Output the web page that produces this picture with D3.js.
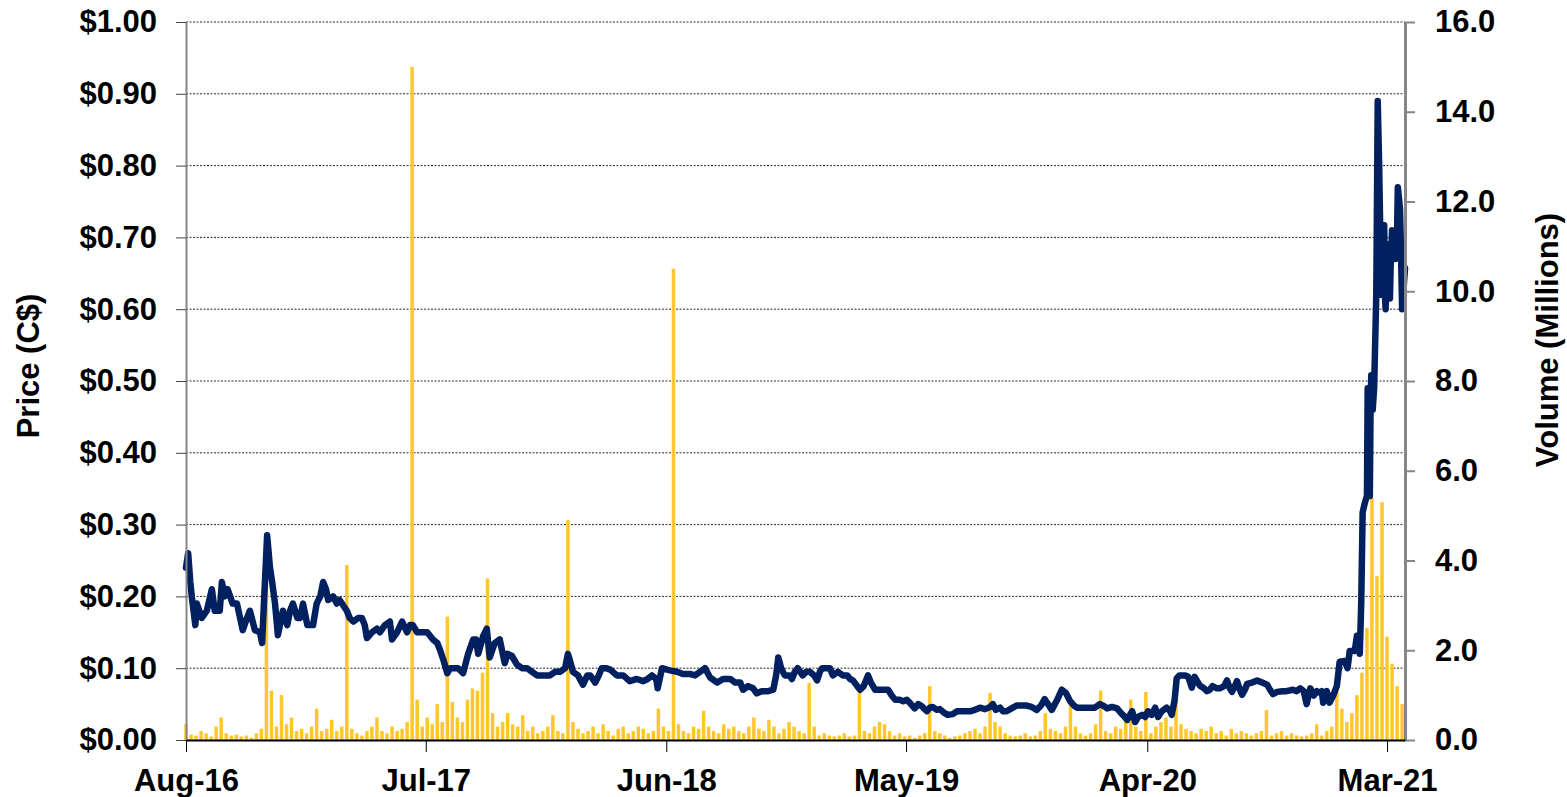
<!DOCTYPE html>
<html>
<head>
<meta charset="utf-8">
<script src="https://cdn.jsdelivr.net/npm/d3@7"></script>
<style>
  body { margin: 0; background: #fff; }
  text { font-family: "Liberation Sans", Arial, sans-serif; font-weight: bold; }
</style>
</head>
<body>
<svg id="chart"></svg>
<script>
// Date range of the chart
const startDate = new Date(2016, 7, 1);
const endDate = new Date(2021, 2, 26);

// X tick labels and their dates
const xTickLabels = ["Aug-16", "Jul-17", "Jun-18", "May-19", "Apr-20", "Mar-21"];
const xTickDates = ["2016-08-01", "2017-07-01", "2018-06-01", "2019-05-01", "2020-04-01", "2021-03-01"];

// Axis ticks
const priceTicks = [0, 0.1, 0.2, 0.3, 0.4, 0.5, 0.6, 0.7, 0.8, 0.9, 1.0];
const volumeTicks = [0, 2, 4, 6, 8, 10, 12, 14, 16];

// Closing price (C$): [days since 1 Aug 2016, price]
const pricePoints = [
  [0,0.24],[3,0.26],[6,0.22],[8,0.20],[13,0.16],[15,0.19],[22,0.17],[29,0.18],[36,0.21],[40,0.18],
  [47,0.18],[50,0.22],[54,0.20],[58,0.21],[65,0.19],[71,0.19],[79,0.153],[85,0.17],[89,0.18],[96,0.153],
  [103,0.15],[106,0.135],[109,0.20],[113,0.285],[117,0.24],[120,0.22],[124,0.19],[128,0.146],[135,0.18],[141,0.16],
  [145,0.18],[149,0.19],[155,0.17],[159,0.17],[163,0.19],[169,0.16],[177,0.16],[182,0.19],[187,0.20],[191,0.22],
  [195,0.21],[198,0.195],[205,0.20],[210,0.19],[214,0.195],[224,0.18],[228,0.17],[233,0.165],[240,0.17],[245,0.17],
  [249,0.16],[252,0.142],[259,0.15],[266,0.155],[270,0.15],[277,0.16],[284,0.165],[287,0.14],[294,0.15],[301,0.165],
  [308,0.15],[312,0.16],[316,0.16],[322,0.15],[326,0.15],[336,0.15],[344,0.14],[350,0.135],[354,0.125],[359,0.11],
  [364,0.093],[368,0.10],[372,0.10],[379,0.10],[386,0.093],[393,0.12],[400,0.14],[404,0.14],[407,0.12],[414,0.145],
  [419,0.155],[423,0.115],[430,0.135],[437,0.14],[444,0.107],[448,0.12],[454,0.117],[461,0.105],[468,0.10],[475,0.10],
  [482,0.095],[489,0.09],[497,0.09],[507,0.09],[514,0.095],[521,0.095],[528,0.10],[532,0.12],[535,0.11],[539,0.095],
  [546,0.09],[553,0.077],[559,0.09],[563,0.09],[570,0.08],[575,0.09],[579,0.10],[585,0.10],[591,0.098],[600,0.09],
  [609,0.09],[618,0.082],[628,0.085],[637,0.082],[643,0.085],[649,0.09],[655,0.085],[657,0.072],[663,0.10],[670,0.098],
  [674,0.097],[684,0.095],[692,0.092],[702,0.092],[709,0.09],[716,0.095],[723,0.10],[730,0.087],[740,0.08],[748,0.085],
  [758,0.085],[765,0.08],[772,0.08],[776,0.07],[783,0.075],[790,0.072],[795,0.065],[802,0.068],[811,0.068],[818,0.07],
  [822,0.09],[825,0.115],[829,0.10],[834,0.09],[841,0.09],[844,0.085],[848,0.095],[852,0.10],[859,0.09],[864,0.095],
  [869,0.095],[875,0.09],[879,0.083],[883,0.095],[886,0.10],[897,0.10],[901,0.09],[908,0.095],[915,0.09],[921,0.09],
  [925,0.085],[929,0.083],[935,0.075],[939,0.07],[944,0.075],[950,0.09],[954,0.08],[960,0.07],[969,0.07],[978,0.07],
  [983,0.062],[988,0.056],[994,0.056],[999,0.054],[1004,0.056],[1008,0.052],[1015,0.044],[1020,0.05],[1025,0.047],[1032,0.04],
  [1036,0.045],[1040,0.046],[1046,0.042],[1050,0.043],[1056,0.038],[1061,0.035],[1068,0.036],[1074,0.04],[1082,0.04],[1092,0.04],
  [1099,0.042],[1106,0.045],[1113,0.043],[1120,0.046],[1124,0.05],[1128,0.042],[1134,0.045],[1138,0.04],[1143,0.04],[1150,0.044],
  [1157,0.048],[1164,0.048],[1171,0.048],[1178,0.046],[1185,0.042],[1191,0.048],[1196,0.057],[1202,0.048],[1206,0.042],[1213,0.055],
  [1220,0.07],[1226,0.065],[1231,0.055],[1237,0.048],[1241,0.045],[1248,0.045],[1255,0.045],[1266,0.045],[1273,0.05],[1279,0.047],
  [1283,0.044],[1290,0.046],[1297,0.044],[1302,0.038],[1306,0.034],[1311,0.028],[1315,0.035],[1318,0.04],[1322,0.025],[1326,0.032],
  [1332,0.035],[1336,0.032],[1340,0.04],[1345,0.035],[1350,0.045],[1354,0.032],[1359,0.04],[1366,0.045],[1371,0.04],[1373,0.035],
  [1377,0.055],[1380,0.086],[1384,0.09],[1387,0.09],[1391,0.09],[1396,0.088],[1401,0.073],[1405,0.088],[1412,0.076],[1418,0.072],
  [1422,0.068],[1426,0.07],[1430,0.075],[1436,0.072],[1440,0.072],[1446,0.075],[1450,0.083],[1454,0.072],[1457,0.067],[1461,0.075],
  [1464,0.082],[1468,0.07],[1471,0.063],[1475,0.07],[1478,0.078],[1485,0.08],[1492,0.083],[1499,0.08],[1506,0.077],[1510,0.07],
  [1514,0.064],[1520,0.067],[1527,0.068],[1533,0.068],[1542,0.07],[1547,0.068],[1552,0.072],[1557,0.068],[1561,0.05],[1566,0.072],
  [1571,0.062],[1575,0.068],[1579,0.066],[1582,0.068],[1584,0.052],[1589,0.068],[1593,0.052],[1598,0.062],[1603,0.075],[1607,0.109],
  [1614,0.11],[1618,0.10],[1621,0.124],[1628,0.124],[1631,0.145],[1635,0.12],[1637,0.19],[1639,0.317],[1642,0.33],[1645,0.34],
  [1646,0.49],[1647,0.45],[1649,0.34],[1650,0.46],[1651,0.508],[1653,0.46],[1655,0.49],[1658,0.62],[1660,0.89],[1662,0.80],
  [1663,0.74],[1665,0.62],[1666,0.65],[1669,0.717],[1670,0.62],[1671,0.60],[1673,0.69],[1674,0.69],[1677,0.615],[1678,0.66],
  [1680,0.71],[1683,0.69],[1685,0.67],[1687,0.71],[1688,0.77],[1691,0.74],[1692,0.70],[1694,0.60],[1698,0.657]
];

// Weekly volume (millions), one value per week starting 1 Aug 2016
const weeklyVolume = [
  0.35, 0.12, 0.1, 0.2, 0.15, 0.08, 0.3, 0.5, 0.15, 0.1,
  0.12, 0.08, 0.1, 0.05, 0.15, 0.25, 4.6, 1.1, 0.3, 1.0,
  0.35, 0.5, 0.2, 0.25, 0.15, 0.3, 0.7, 0.2, 0.25, 0.45,
  0.2, 0.3, 3.9, 0.25, 0.15, 0.1, 0.2, 0.3, 0.5, 0.2,
  0.15, 0.3, 0.2, 0.25, 0.4, 15.0, 0.9, 0.3, 0.5, 0.35,
  0.8, 0.4, 2.75, 0.85, 0.5, 0.4, 0.9, 1.15, 1.1, 1.5,
  3.6, 0.6, 0.3, 0.4, 0.6, 0.35, 0.3, 0.55, 0.2, 0.3,
  0.15, 0.2, 0.3, 0.55, 0.2, 0.15, 4.9, 0.4, 0.25, 0.15,
  0.2, 0.3, 0.15, 0.35, 0.2, 0.1, 0.25, 0.3, 0.15, 0.2,
  0.3, 0.25, 0.15, 0.2, 0.7, 0.3, 0.2, 10.5, 0.35, 0.2,
  0.15, 0.3, 0.25, 0.65, 0.3, 0.2, 0.15, 0.35, 0.25, 0.3,
  0.2, 0.15, 0.3, 0.5, 0.25, 0.2, 0.45, 0.3, 0.15, 0.25,
  0.4, 0.3, 0.2, 0.15, 1.27, 0.3, 0.1, 0.15, 0.1, 0.08,
  0.1, 0.15, 0.08, 0.1, 1.2, 0.2, 0.15, 0.3, 0.4, 0.35,
  0.2, 0.1, 0.15, 0.08, 0.1, 0.05, 0.1, 0.15, 1.2, 0.2,
  0.15, 0.1, 0.05, 0.08, 0.1, 0.15, 0.2, 0.25, 0.15, 0.3,
  1.05, 0.4, 0.3, 0.15, 0.1, 0.08, 0.1, 0.15, 0.08, 0.1,
  0.2, 0.6, 0.25, 0.2, 0.15, 0.3, 0.8, 0.3, 0.15, 0.1,
  0.15, 0.35, 1.1, 0.2, 0.15, 0.3, 0.25, 0.4, 0.9, 0.3,
  0.2, 1.07, 0.15, 0.3, 0.4, 0.5, 0.3, 0.9, 0.35, 0.25,
  0.2, 0.15, 0.25, 0.2, 0.3, 0.15, 0.2, 0.1, 0.25, 0.15,
  0.2, 0.15, 0.1, 0.15, 0.2, 0.67, 0.1, 0.15, 0.2, 0.1,
  0.15, 0.1, 0.08, 0.1, 0.15, 0.35, 0.1, 0.2, 0.3, 1.2,
  0.7, 0.4, 0.6, 1.0, 1.5, 2.5, 5.4, 3.65, 5.3, 2.3, 1.7, 1.2, 0.8
];

// Sizes
const width = 1567;
const height = 797;
const marginTop = 22;
const marginRight = 162;
const marginBottom = 57;
const marginLeft = 186;

const svg = d3.select("#chart")
    .attr("width", width)
    .attr("height", height)
    .attr("viewBox", [0, 0, width, height]);

const x = d3.scaleTime()
    .domain([startDate, endDate])
    .range([marginLeft, width - marginRight]);

const yPrice = d3.scaleLinear()
    .domain([0, 1])
    .range([height - marginBottom, marginTop]);

const yVol = d3.scaleLinear()
    .domain([0, 16])
    .range([height - marginBottom, marginTop]);

// Dotted gridlines
svg.append("g")
  .selectAll("line")
  .data(priceTicks.slice(1))
  .join("line")
    .attr("x1", marginLeft)
    .attr("x2", width - marginRight)
    .attr("y1", d => yPrice(d))
    .attr("y2", d => yPrice(d))
    .attr("stroke", "#2a2a2a")
    .attr("stroke-width", 1)
    .attr("stroke-dasharray", "2,1.5");

// Volume bars
const volData = weeklyVolume.map((v, i) => ({ date: d3.timeDay.offset(startDate, 7 * i), v }));
svg.append("g")
    .attr("fill", "#FFC72C")
  .selectAll("rect")
  .data(volData)
  .join("rect")
    .attr("x", d => x(d.date) - 1.75)
    .attr("width", 3.5)
    .attr("y", d => yVol(d.v))
    .attr("height", d => yVol(0) - yVol(d.v));

// Price line
const line = d3.line()
    .x(d => x(d3.timeDay.offset(startDate, d[0])))
    .y(d => yPrice(d[1]));

svg.append("path")
    .datum(pricePoints)
    .attr("fill", "none")
    .attr("stroke", "#002060")
    .attr("stroke-width", 6.5)
    .attr("stroke-linejoin", "round")
    .attr("stroke-linecap", "round")
    .attr("d", line);

// Left axis
svg.append("g")
    .attr("transform", `translate(${marginLeft},0)`)
    .call(d3.axisLeft(yPrice).tickValues(priceTicks)
        .tickFormat(d => "$" + d.toFixed(2)).tickSize(10).tickSizeOuter(0).tickPadding(19))
    .call(g => g.select(".domain").attr("stroke", "#868686").attr("stroke-width", 2))
    .call(g => g.selectAll(".tick line").attr("stroke", "#444"))
    .call(g => g.selectAll(".tick text").attr("font-size", 31).attr("fill", "#000"));

// Right axis
svg.append("g")
    .attr("transform", `translate(${width - marginRight},0)`)
    .call(d3.axisRight(yVol).tickValues(volumeTicks)
        .tickFormat(d3.format(".1f")).tickSize(10).tickSizeOuter(0).tickPadding(20))
    .call(g => g.select(".domain").attr("stroke", "#868686").attr("stroke-width", 3))
    .call(g => g.selectAll(".tick line").attr("stroke", "#868686").attr("stroke-width", 2))
    .call(g => g.selectAll(".tick text").attr("font-size", 31).attr("fill", "#000"));

// Bottom axis
const parseDate = d3.timeParse("%Y-%m-%d");
svg.append("g")
    .attr("transform", `translate(0,${height - marginBottom})`)
    .call(d3.axisBottom(x).tickValues(xTickDates.map(parseDate))
        .tickFormat((d, i) => xTickLabels[i]).tickSize(12).tickSizeOuter(0).tickPadding(17))
    .call(g => g.select(".domain").attr("stroke", "#000").attr("stroke-width", 2))
    .call(g => g.selectAll(".tick line").attr("stroke", "#000"))
    .call(g => g.selectAll(".tick text").attr("font-size", 31).attr("fill", "#000"));

// Axis titles
svg.append("text")
    .attr("transform", "translate(39,366) rotate(-90)")
    .attr("text-anchor", "middle")
    .attr("font-size", 31)
    .text("Price (C$)");

svg.append("text")
    .attr("transform", "translate(1558,340) rotate(-90)")
    .attr("text-anchor", "middle")
    .attr("font-size", 31)
    .text("Volume (Millions)");
</script>
</body>
</html>
